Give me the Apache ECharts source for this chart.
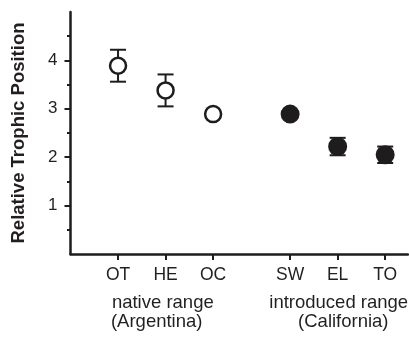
<!DOCTYPE html>
<html>
<head>
<meta charset="utf-8">
<script src="https://cdn.jsdelivr.net/npm/echarts@6/dist/echarts.min.js"></script>
<style>html,body{margin:0;padding:0;background:#fff;}#chart{width:409px;height:351px;}</style>
</head>
<body>
<div id="chart"></div>
<script>
// ---- data ----
const categories = ['OT', 'HE', 'OC', 'SW', 'EL', 'TO'];
const xPositions = [1, 2, 3, 4.62, 5.62, 6.62];
const trophicPosition = [3.89, 3.38, 2.89, 2.89, 2.22, 2.05];
const errorValues = [0.33, 0.33, 0.05, 0.05, 0.18, 0.17];
const rangeGroup = ['native', 'native', 'native', 'introduced', 'introduced', 'introduced'];
const yMajorTicks = [1, 2, 3, 4];
const yMinorTicks = [0.5, 1.5, 2.5, 3.5, 4.5];
const groupLabels = ['native range', '(Argentina)', 'introduced range', '(California)'];

const INK = '#1e1c1d';
const TXT = '#231f20';
const FONT = '"Liberation Sans", Arial, Helvetica, sans-serif';

const chart = echarts.init(document.getElementById('chart'), null, { renderer: 'canvas' });

const openData = [], filledData = [], errData = [];
categories.forEach((c, i) => {
  const pt = [xPositions[i], trophicPosition[i]];
  if (rangeGroup[i] === 'native') openData.push(pt); else filledData.push(pt);
  errData.push([xPositions[i], trophicPosition[i] - errorValues[i], trophicPosition[i] + errorValues[i]]);
});

const labelMap = {};
xPositions.forEach((p, i) => { labelMap[p.toFixed(2)] = categories[i]; });

const option = {
  animation: false,
  backgroundColor: '#fff',
  grid: { left: 70.5, right: 1, top: 12, bottom: 97, containLabel: false },
  xAxis: {
    type: 'value', min: 0, max: 7.1,
    axisLine: { show: true, lineStyle: { color: INK, width: 2.5 } },
    axisTick: { show: true, customValues: xPositions, length: 6, lineStyle: { color: INK, width: 2 } },
    axisLabel: {
      show: true, customValues: xPositions, margin: 12,
      color: TXT, fontSize: 17.5, fontFamily: FONT,
      formatter: v => labelMap[Number(v).toFixed(2)] || ''
    },
    splitLine: { show: false }
  },
  yAxis: [
    {
      type: 'value', min: 0, max: 5,
      name: 'Relative Trophic Position', nameLocation: 'middle', nameGap: 42,
      nameTextStyle: { fontSize: 18.5, fontWeight: 'bold', color: TXT, fontFamily: FONT },
      axisLine: { show: true, lineStyle: { color: INK, width: 2.5 } },
      axisTick: { show: true, customValues: yMajorTicks, length: 6, lineStyle: { color: INK, width: 2 } },
      axisLabel: { show: true, customValues: yMajorTicks, margin: 13, color: TXT, fontSize: 17, fontFamily: FONT },
      splitLine: { show: false }
    },
    {
      type: 'value', min: 0, max: 5, position: 'left',
      axisLine: { show: false },
      axisTick: { show: true, customValues: yMinorTicks, length: 3.5, lineStyle: { color: INK, width: 2 } },
      axisLabel: { show: false },
      splitLine: { show: false }
    }
  ],
  series: [
    {
      type: 'custom',
      z: 1,
      data: errData,
      renderItem: (params, api) => {
        const x = api.value(0);
        const lo = api.coord([x, api.value(1)]);
        const hi = api.coord([x, api.value(2)]);
        const hw = 8;
        const st = { stroke: INK, lineWidth: 2, fill: null };
        return {
          type: 'group',
          children: [
            { type: 'line', shape: { x1: lo[0], y1: lo[1], x2: hi[0], y2: hi[1] }, style: st },
            { type: 'line', shape: { x1: lo[0] - hw, y1: lo[1], x2: lo[0] + hw, y2: lo[1] }, style: st },
            { type: 'line', shape: { x1: hi[0] - hw, y1: hi[1], x2: hi[0] + hw, y2: hi[1] }, style: st }
          ]
        };
      }
    },
    {
      type: 'scatter', z: 3, data: openData, symbol: 'circle', symbolSize: 16,
      itemStyle: { color: '#fff', borderColor: INK, borderWidth: 2.5, opacity: 1 }
    },
    {
      type: 'scatter', z: 3, data: filledData, symbol: 'circle', symbolSize: 19,
      itemStyle: { color: INK, borderWidth: 0, opacity: 1 }
    }
  ],
  graphic: [
    { type: 'text', x: 162.8, y: 303, style: { text: groupLabels[0], fontSize: 18.5, fontFamily: FONT, fill: TXT, align: 'center', verticalAlign: 'middle' } },
    { type: 'text', x: 156.7, y: 321.7, style: { text: groupLabels[1], fontSize: 18.5, fontFamily: FONT, fill: TXT, align: 'center', verticalAlign: 'middle' } },
    { type: 'text', x: 338.7, y: 303, style: { text: groupLabels[2], fontSize: 18.5, fontFamily: FONT, fill: TXT, align: 'center', verticalAlign: 'middle' } },
    { type: 'text', x: 343.3, y: 321.7, style: { text: groupLabels[3], fontSize: 18.5, fontFamily: FONT, fill: TXT, align: 'center', verticalAlign: 'middle' } }
  ]
};
chart.setOption(option);
</script>
</body>
</html>
